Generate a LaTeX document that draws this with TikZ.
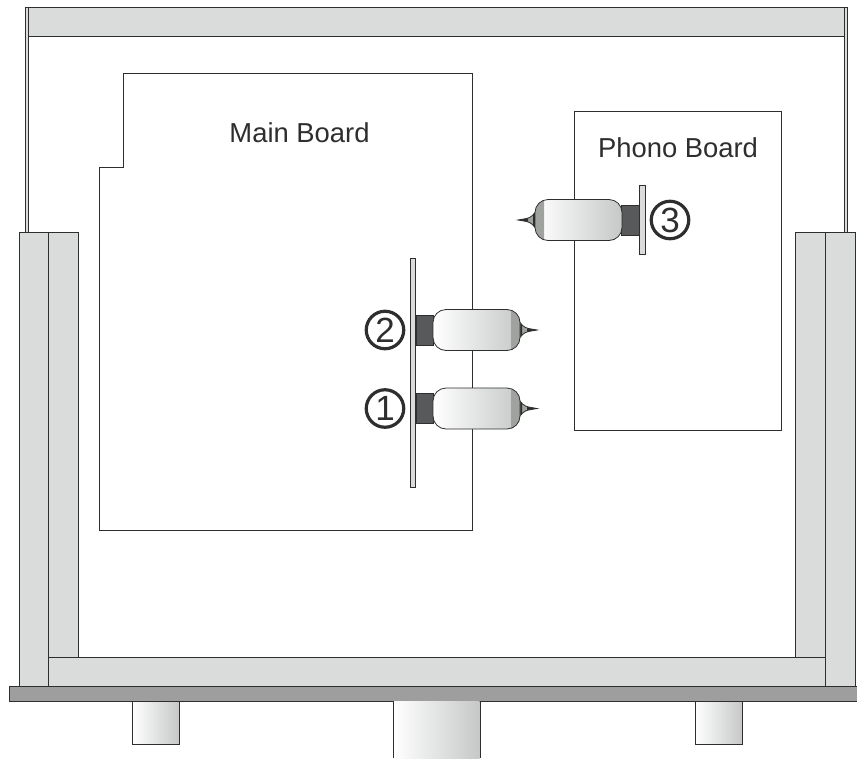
\documentclass[tikz,border=0pt]{standalone}
\usepackage{fontspec}
\setmainfont{Liberation Sans}
\definecolor{ln}{HTML}{2E2E2E}
\definecolor{panel}{HTML}{DADBDB}
\definecolor{basegrey}{HTML}{9D9E9D}
\definecolor{sock}{HTML}{58595B}
\definecolor{endgrey}{HTML}{A0A2A0}
\definecolor{bodyend}{HTML}{C6C8C8}
\tikzset{
 edge/.style={draw=ln,line width=1pt},
 panelbox/.style={edge,fill=panel},
 boardline/.style={edge,fill=white},
 lab/.style={font=\fontsize{27.4pt}{30pt}\selectfont,text=ln,inner sep=0pt},
 num/.style={circle,draw=ln,line width=3.2pt,minimum size=37.5pt,inner sep=0pt,text=ln,font=\fontsize{35pt}{35pt}\selectfont},
 connector/.pic={
  \fill[sock,draw=ln,line width=.6pt] (0,-15) rectangle (17.5,15);
  \draw[draw=ln,line width=.8pt,fill=endgrey] (102,-10.5) .. controls (105,-5.5) and (108,-2.2) .. (113,-1.4)
     -- (121,0) -- (113,1.4) .. controls (108,2.2) and (105,5.5) .. (102,10.5) -- cycle;
  \fill[ln] (103,-9) -- (106,-5) -- (106,5) -- (103,9) -- cycle;
  \fill[ln] (111,-1.6) -- (121,0) -- (111,1.6) -- cycle;
  \shade[left color=white,right color=bodyend,rounded corners=13pt] (17,-20.5) rectangle (104,20.5);
  \begin{scope}
   \clip (95,-22) rectangle (106,22);
   \fill[endgrey,rounded corners=13pt] (17,-20.5) rectangle (104,20.5);
  \end{scope}
  \draw[edge,line width=.8pt,rounded corners=13pt] (17,-20.5) rectangle (104,20.5);
 }
}
\begin{document}
\begin{tikzpicture}[x=1pt,y=-1pt]
\useasboundingbox (0,0) rectangle (857,758);
% cabinet top and sides
\draw[panelbox] (25,7) rectangle (847,36);
\draw[panelbox,line width=.8pt] (25,7) rectangle (28,232);
\draw[panelbox,line width=.8pt] (844.5,7) rectangle (847.5,232);
% posts and floor
\draw[panelbox] (19,232) rectangle (48,686);
\draw[panelbox] (48,232) rectangle (78,657);
\draw[panelbox] (48,657) rectangle (825,686);
\draw[panelbox] (795,232) rectangle (825,657);
\draw[panelbox] (825,232) rectangle (855,686);
\draw[edge,fill=basegrey] (9,686) -- (857,686) -- (857,701) -- (9,701) -- cycle;
% feet
\draw[edge,left color=white,right color=bodyend] (132,701) rectangle (179,744);
\draw[edge,left color=white,right color=bodyend] (695,701) rectangle (742,744);
\shade[left color=white,right color=bodyend] (393.5,701.5) rectangle (479.5,758);
\draw[edge] (393,701) -- (393,758) (480,701) -- (480,758);
% boards
\draw[boardline] (123,73) -- (472.5,73) -- (472.5,530) -- (99,530) -- (99,167) -- (123,167) -- cycle;
\draw[boardline] (574,111) rectangle (781,430);
\node[lab] (mainlabel) at (299.5,133) {Main Board};
\node[lab] (phonolabel) at (678,148) {Phono Board};
% connectors
\draw[panelbox,line width=.8pt] (410,258) rectangle (415.5,487);
\draw[panelbox,line width=.8pt] (639,185) rectangle (645,254);
\pic at (416,330) {connector};
\pic at (416,408.5) {connector};
\pic[xscale=-1] at (639,220) {connector};
\node[num] (numtwo) at (385,330) {2};
\node[num] (numone) at (385,408.5) {1};
\node[num] (numthree) at (670,220) {3};
\end{tikzpicture}
\end{document}
